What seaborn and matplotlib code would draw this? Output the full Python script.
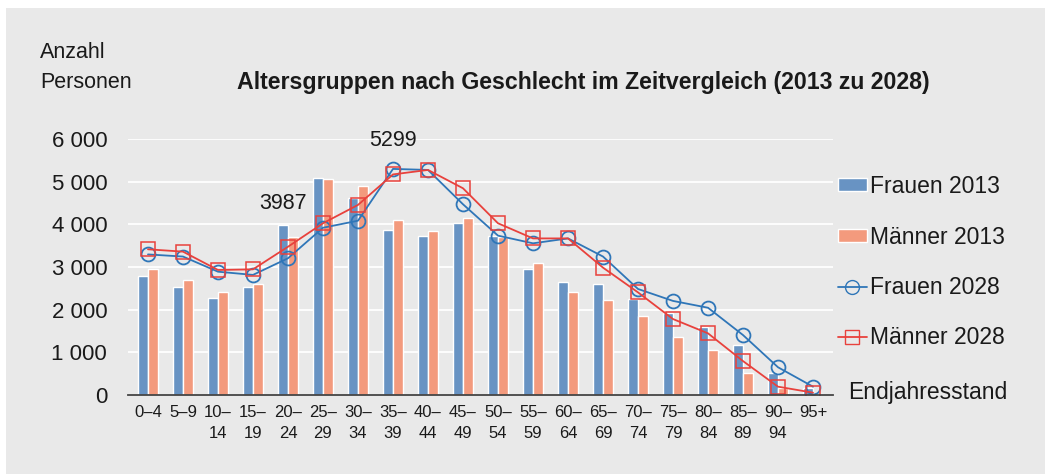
import numpy as np
import pandas as pd
import matplotlib
matplotlib.use("Agg")
import matplotlib.pyplot as plt
import seaborn as sns
from matplotlib.patches import Patch, Rectangle
from matplotlib.lines import Line2D

# data
ages = ["0–4", "5–9", "10–\n14", "15–\n19", "20–\n24", "25–\n29", "30–\n34",
        "35–\n39", "40–\n44", "45–\n49", "50–\n54", "55–\n59", "60–\n64",
        "65–\n69", "70–\n74", "75–\n79", "80–\n84", "85–\n89", "90–\n94", "95+"]
frauen_2013 = [2800, 2530, 2280, 2530, 3987, 5080, 4610, 3875, 3735, 4040,
               3735, 2955, 2655, 2595, 2250, 1930, 1585, 1165, 525, 160]
maenner_2013 = [2955, 2690, 2405, 2600, 3705, 5055, 4905, 4100, 3850, 4150,
                3710, 3100, 2415, 2220, 1845, 1360, 1055, 525, 170, 35]
frauen_2028 = [3295, 3245, 2890, 2815, 3205, 3920, 4085, 5299, 5275, 4470,
               3735, 3555, 3670, 3245, 2485, 2205, 2045, 1405, 650, 195]
maenner_2028 = [3415, 3360, 2930, 2945, 3475, 4025, 4455, 5170, 5275, 4845,
                4025, 3670, 3670, 2985, 2405, 1780, 1445, 795, 195, 55]

bg = "#e9e9e9"
c_f13 = "#6893c3"
c_m13 = "#f39a7d"
c_f28 = "#2f76b8"
c_m28 = "#e8413c"

sns.set_theme(style="white")
plt.rcParams["font.family"] = ["Liberation Sans", "DejaVu Sans"]
plt.rcParams["text.color"] = "#1a1a1a"

fig = plt.figure(figsize=(10.45, 4.74), dpi=100)
fig.patches.append(Rectangle((6 / 1045, 0), 1, 1 - 8 / 474, transform=fig.transFigure,
                             facecolor=bg, edgecolor="none", zorder=-10))
ax = fig.add_axes([128 / 1045, 1 - 395 / 474, 705 / 1045, 256 / 474])
ax.set_facecolor("none")

# bars for 2013
df = pd.DataFrame({
    "Alter": ages * 2,
    "Anzahl": frauen_2013 + maenner_2013,
    "Gruppe": ["Frauen 2013"] * len(ages) + ["Männer 2013"] * len(ages),
})
sns.barplot(data=df, x="Alter", y="Anzahl", hue="Gruppe", palette=[c_f13, c_m13],
            width=0.57, saturation=1, legend=False, ax=ax, zorder=2)

# lines for 2028
xpos = np.arange(len(ages))
sns.lineplot(x=xpos, y=frauen_2028, color=c_f28, linewidth=1.3, marker="o",
             markersize=10, markerfacecolor="none", markeredgecolor=c_f28,
             markeredgewidth=1.3, ax=ax, zorder=3)
sns.lineplot(x=xpos, y=maenner_2028, color=c_m28, linewidth=1.3, marker="s",
             markersize=10, markerfacecolor="none", markeredgecolor=c_m28,
             markeredgewidth=1.1, ax=ax, zorder=4)

ax.set_xlim(-0.571, len(ages) - 1 + 0.571)
ax.set_ylim(0, 6000)
ax.set_yticks(range(0, 6001, 1000))
ax.set_yticklabels([f"{v:,}".replace(",", " ") for v in range(0, 6001, 1000)])
ax.set_xticks(xpos)
ax.set_xticklabels(ages, linespacing=1.5)
ax.set_xlabel("")
ax.set_ylabel("")
ax.yaxis.grid(True, color="white", linewidth=1.3, zorder=0)
ax.set_axisbelow(True)
for s in ["top", "right", "left"]:
    ax.spines[s].set_visible(False)
ax.spines["bottom"].set_color("#444444")
ax.spines["bottom"].set_linewidth(1.3)
ax.spines["bottom"].set_zorder(5)
ax.tick_params(axis="y", length=0, pad=15, labelsize=16, labelcolor="#1a1a1a")
ax.tick_params(axis="x", length=0, pad=7, labelsize=12, labelcolor="#1a1a1a")

# value labels
ax.annotate("3987", (4 - 0.14, frauen_2013[4]), xytext=(0, 8), textcoords="offset points",
            ha="center", va="bottom", fontsize=15.5)
ax.annotate("5299", (7, frauen_2028[7]), xytext=(0, 13), textcoords="offset points",
            ha="center", va="bottom", fontsize=15.5)

# legend
handles = [
    Patch(facecolor=c_f13, label="Frauen 2013"),
    Patch(facecolor=c_m13, label="Männer 2013"),
    Line2D([], [], color=c_f28, lw=1.3, marker="o", markersize=10,
           markerfacecolor="none", label="Frauen 2028"),
    Line2D([], [], color=c_m28, lw=1.3, marker="s", markersize=10,
           markerfacecolor="none", label="Männer 2028"),
]
ax.legend(handles=handles, loc="upper left", bbox_to_anchor=(838 / 1045, 1 - 175 / 474),
          bbox_transform=fig.transFigure, frameon=False, fontsize=16.5,
          handlelength=1.25, handleheight=0.5, handletextpad=0.15,
          labelspacing=1.2, borderpad=0, borderaxespad=0)

fig.text(848 / 1045, 1 - 393 / 474, "Endjahresstand", fontsize=16.5, va="center")
fig.text(40 / 1045, 1 - 53 / 474, "Anzahl", fontsize=15.5, va="center")
fig.text(40 / 1045, 1 - 82 / 474, "Personen", fontsize=15.5, va="center")
fig.text(237 / 1045, 1 - 82 / 474,
         "Altersgruppen nach Geschlecht im Zeitvergleich (2013 zu 2028)",
         fontsize=16.7, fontweight="bold", va="center")

fig.savefig("out.png", dpi=100, facecolor="white")
